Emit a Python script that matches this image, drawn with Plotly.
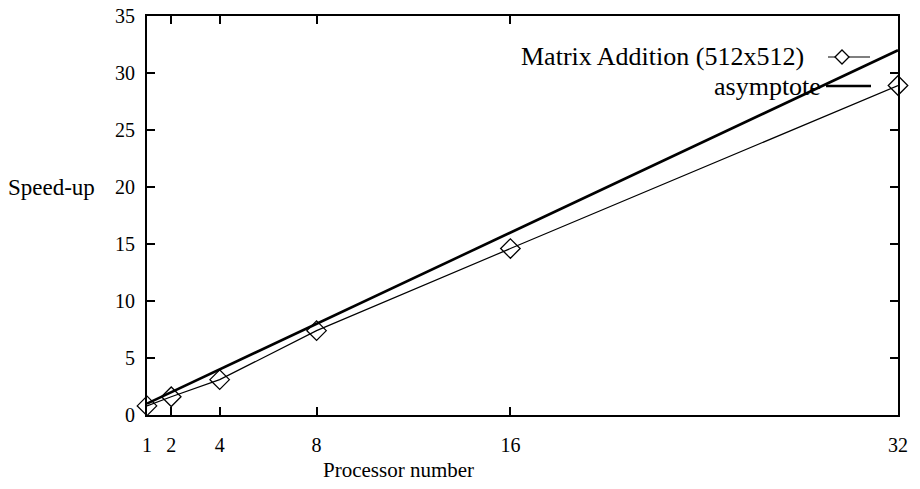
import plotly.graph_objects as go

processors = [1, 2, 4, 8, 16, 32]
speedup = [0.8, 1.6, 3.1, 7.4, 14.6, 28.9]
asym_x = [1, 32]
asym_y = [1, 32]
x_ticks = [1, 2, 4, 8, 16, 32]
y_ticks = [0, 5, 10, 15, 20, 25, 30, 35]

FONT = "Liberation Serif"
fig = go.Figure()
fig.add_trace(go.Scatter(x=processors, y=speedup, mode="lines+markers",
                         line=dict(color="black", width=1.2),
                         marker=dict(symbol="diamond-open", size=15, color="black", line=dict(width=1.3)),
                         showlegend=False, cliponaxis=False))
fig.add_trace(go.Scatter(x=asym_x, y=asym_y, mode="lines",
                         line=dict(color="black", width=2.6), showlegend=False))

W, H = 920, 489
L, R, T, B = 147, 22, 16, 74
pw, ph = W - L - R, H - T - B

axis_common = dict(showgrid=False, zeroline=False, showline=True, linecolor="black", linewidth=2,
                   mirror="ticks", ticks="inside", ticklen=8, tickcolor="black", tickwidth=1.5,
                   automargin=False,
                   tickfont=dict(family=FONT, size=20, color="black"))
fig.update_xaxes(range=[1, 32], tickvals=x_ticks, ticktext=[str(v) for v in x_ticks],
                 ticklabelstandoff=11, **axis_common)
fig.update_yaxes(range=[0, 35], tickvals=y_ticks, ticktext=[str(v) for v in y_ticks],
                 ticklabelstandoff=6, **axis_common)

def px(xp):
    return (xp - L) / pw
def py(yp):
    return 1 - (yp - T) / ph

annotations = [
    dict(text="Processor number", x=px(398), y=py(470), xref="paper", yref="paper", showarrow=False,
         yanchor="middle", font=dict(family=FONT, size=21, color="black")),
    dict(text="Speed-up", x=px(6), y=py(187), xref="paper", yref="paper", showarrow=False,
         xanchor="left", yanchor="middle", font=dict(family=FONT, size=23, color="black")),
    dict(text="Matrix Addition (512x512)", x=px(806), y=py(57), xref="paper", yref="paper",
         showarrow=False, xanchor="right", yanchor="middle", font=dict(family=FONT, size=26, color="black")),
    dict(text="asymptote", x=px(823), y=py(86), xref="paper", yref="paper",
         showarrow=False, xanchor="right", yanchor="middle", font=dict(family=FONT, size=26, color="black")),
]

shapes = [
    dict(type="line", xref="paper", yref="paper", x0=px(828), x1=px(870), y0=py(57), y1=py(57),
         line=dict(color="black", width=1.2)),
    dict(type="path", xref="paper", yref="paper",
         path=f"M {px(835)},{py(57)} L {px(842)},{py(50)} L {px(849)},{py(57)} L {px(842)},{py(64)} Z",
         fillcolor="white", line=dict(color="black", width=1.3)),
    dict(type="line", xref="paper", yref="paper", x0=px(826), x1=px(871), y0=py(86), y1=py(86),
         line=dict(color="black", width=2.6)),
]

fig.update_layout(width=W, height=H, margin=dict(l=L, r=R, t=T, b=B),
                  template="none",
                  paper_bgcolor="white", plot_bgcolor="white",
                  annotations=annotations, shapes=shapes)
fig.write_html("out.html", config={"displayModeBar": False},
               post_script="document.body.style.margin='0';document.body.style.overflow='hidden';")
